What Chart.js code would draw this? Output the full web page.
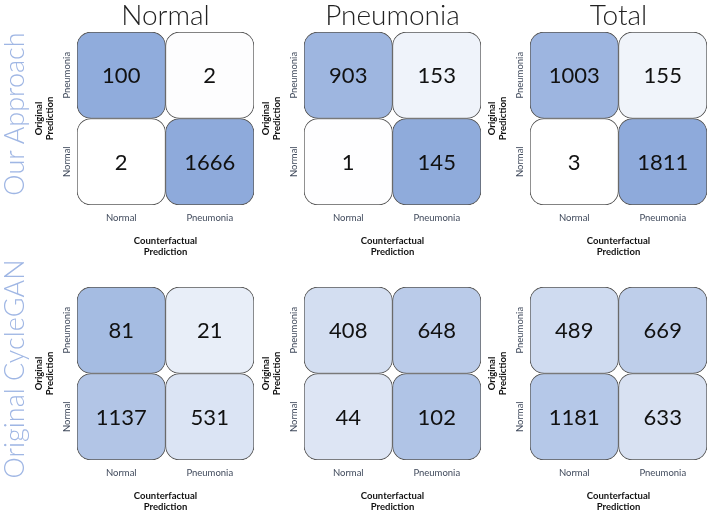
<!DOCTYPE html>
<html>
<head>
<meta charset="utf-8">
<script src="https://cdn.jsdelivr.net/npm/chart.js@4.4.1/dist/chart.umd.min.js"></script>
<style>
  body { margin: 0; width: 708px; height: 512px; overflow: hidden; background: #fff; position: relative; font-family: Lato, "Open Sans", sans-serif; }
  canvas { position: absolute; }
  .coltitle { position: absolute; width: 200px; text-align: center; font-size: 28px; font-weight: 300; line-height: 28px; color: #222; }
  .rowtitle { position: absolute; width: 300px; height: 30px; line-height: 30px; text-align: center; font-size: 27px; font-weight: 300; color: #9fb6e4; transform: rotate(-90deg); white-space: nowrap; }
</style>
</head>
<body>
<script>
// axis categories
const predLabels = ['Normal', 'Pneumonia'];   // counterfactual prediction (columns)
const origLabels = ['Pneumonia', 'Normal'];   // original prediction (rows, top to bottom)
const classTitles = ['Normal', 'Pneumonia', 'Total'];
const methods = ['Our Approach', 'Original CycleGAN'];

// counts, rows = original (Pneumonia, Normal), cols = counterfactual (Normal, Pneumonia)
const oursNormal    = [[100, 2], [2, 1666]];
const oursPneumonia = [[903, 153], [1, 145]];
const oursTotal     = [[1003, 155], [3, 1811]];
const cycNormal     = [[81, 21], [1137, 531]];
const cycPneumonia  = [[408, 648], [44, 102]];
const cycTotal      = [[489, 669], [1181, 633]];

const panels = [
  [oursNormal, oursPneumonia, oursTotal],
  [cycNormal, cycPneumonia, cycTotal]
];

// layout
const chartLefts = [77, 304, 530];
const chartTops = [32, 287];
const cellW = 177, cellH = 173;
const yAxisW = 50, xAxisH = 53;

const hi = [142, 170, 219];
function shade(t) {
  const c = hi.map(v => Math.round(255 - t * (255 - v)));
  return 'rgb(' + c.join(',') + ')';
}

const cellText = {
  id: 'cellText',
  afterDatasetsDraw(chart) {
    const ctx = chart.ctx;
    ctx.save();
    ctx.font = '22px Lato, "Open Sans", sans-serif';
    ctx.fillStyle = '#111';
    ctx.textAlign = 'center';
    ctx.textBaseline = 'middle';
    chart.data.datasets.forEach((ds, i) => {
      chart.getDatasetMeta(i).data.forEach((el, j) => {
        const p = el.getCenterPoint();
        ctx.fillText(String(ds.counts[j]), p.x, p.y + 1);
      });
    });
    // rotated row labels on the y axis
    const ys = chart.scales.y;
    ctx.font = '9.5px Lato, "Open Sans", sans-serif';
    ctx.fillStyle = '#404a5c';
    origLabels.forEach((lab, r) => {
      ctx.save();
      ctx.translate(chart.chartArea.left - 10, ys.getPixelForValue(1.5 - r));
      ctx.rotate(-Math.PI / 2);
      ctx.fillText(lab, 0, 0);
      ctx.restore();
    });
    ctx.restore();
  }
};

function makePanel(row, col) {
  const m = panels[row][col];
  const cv = document.createElement('canvas');
  const w = yAxisW + cellW + 1, h = 2 + cellH + xAxisH;
  cv.width = w; cv.height = h;
  cv.style.left = (chartLefts[col] - yAxisW) + 'px';
  cv.style.top = (chartTops[row] - 2) + 'px';
  document.body.appendChild(cv);

  const datasets = m.map((vals, r) => {
    const sum = vals[0] + vals[1];
    return {
      label: origLabels[r],
      counts: vals,
      data: vals.map(() => [1 - r, 2 - r]),
      backgroundColor: vals.map(v => shade(v / sum)),
      borderColor: '#5a5a5a',
      borderWidth: 1,
      borderRadius: 14,
      borderSkipped: false,
      grouped: false,
      barPercentage: 1,
      categoryPercentage: 1
    };
  });

  new Chart(cv, {
    type: 'bar',
    data: { labels: predLabels, datasets: datasets },
    options: {
      responsive: false,
      animation: false,
      layout: { padding: { top: 2, right: 1, left: 0, bottom: 0 } },
      plugins: { legend: { display: false }, tooltip: { enabled: false } },
      scales: {
        x: {
          grid: { display: false, drawTicks: false },
          border: { display: false },
          ticks: { padding: 7, color: '#404a5c', font: { size: 9.5, family: 'Lato' } },
          title: {
            display: true,
            text: ['Counterfactual', 'Prediction'],
            color: '#111',
            font: { size: 9.5, weight: 'bold', family: 'Lato' },
            padding: { top: 0, bottom: 0 }
          },
          afterFit: s => { s.height = xAxisH; }
        },
        y: {
          min: 0,
          max: 2,
          grid: { display: false },
          border: { display: false },
          ticks: { display: false },
          title: {
            display: true,
            text: ['Original', 'Prediction'],
            color: '#111',
            font: { size: 9.5, weight: 'bold', family: 'Lato' },
            padding: { top: 6, bottom: 0 }
          },
          afterFit: s => { s.width = yAxisW; }
        }
      }
    },
    plugins: [cellText]
  });
}

for (let r = 0; r < 2; r++) {
  for (let c = 0; c < 3; c++) makePanel(r, c);
}

classTitles.forEach((t, c) => {
  const d = document.createElement('div');
  d.className = 'coltitle';
  d.textContent = t;
  d.style.left = (chartLefts[c] + cellW / 2 - 100) + 'px';
  d.style.top = '0px';
  document.body.appendChild(d);
});

methods.forEach((t, r) => {
  const d = document.createElement('div');
  d.className = 'rowtitle';
  d.textContent = t;
  d.style.left = (14 - 150) + 'px';
  d.style.top = (chartTops[r] + cellH / 2 - 5 - 15) + 'px';
  document.body.appendChild(d);
});
</script>
</body>
</html>
